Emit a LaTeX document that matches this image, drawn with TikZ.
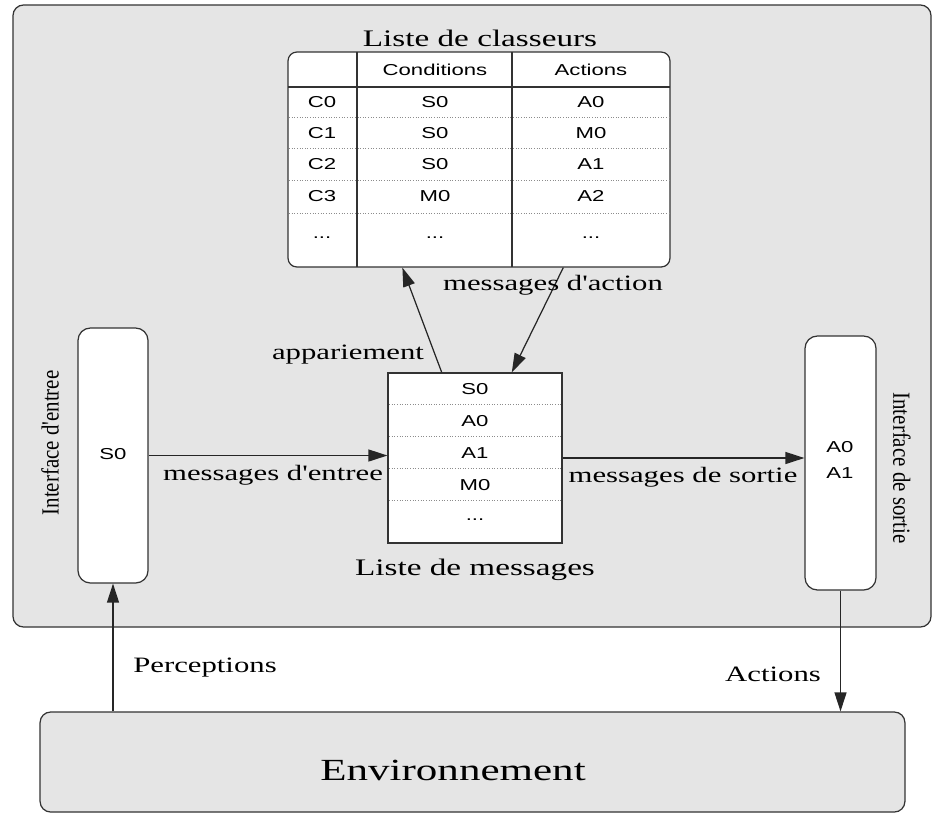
\documentclass[tikz,border=0pt]{standalone}
\usepackage{fontspec}
\setmainfont{Liberation Serif}
\newfontfamily\labfont[FakeStretch=1.4]{Liberation Serif}
\newfontfamily\cellfont[FakeStretch=1.4]{Liberation Sans}
\newfontfamily\sidefont[FakeStretch=0.85]{Liberation Serif}
\usetikzlibrary{arrows.meta,calc}

\begin{document}
\begin{tikzpicture}[x=0.02cm,y=-0.02cm,
  frame/.style={draw=black!80, line width=0.7pt},
  panel/.style={frame, fill=black!10, rounded corners=6pt},
  whitebox/.style={frame, fill=white, rounded corners=5pt, inner sep=0pt},
  listbox/.style={frame, fill=white, inner sep=0pt},
  cell/.style={font=\cellfont\fontsize{9}{10}\selectfont, inner sep=0pt},
  lbl/.style={font=\labfont\fontsize{12.5}{14}\selectfont, inner sep=0pt},
  title/.style={font=\labfont\fontsize{13.5}{15}\selectfont, inner sep=0pt},
  sidelbl/.style={font=\sidefont\fontsize{14}{16}\selectfont, inner sep=0pt},
  arr/.style={draw=black!85, line width=0.7pt, -{Triangle[length=3.8mm,width=2.4mm]}},
  sepline/.style={draw=black!45, line width=0.5pt, densely dotted},
]
\useasboundingbox (0,0) rectangle (935,822);
\fill[white] (0,0) rectangle (935,822);

% classifier system frame
\draw[panel] (13,5) rectangle (931,627);

% environment
\node[panel, minimum width=17.3cm, minimum height=2cm] (env) at (472.5,762) {};
\node[font=\labfont\fontsize{17.5}{20}\selectfont, inner sep=0pt] (envtext) at (453,770) {Environnement};

% classifier list
\node[title] (clstitle) at (480,38) {Liste de classeurs};
\node[whitebox, minimum width=7.64cm, minimum height=4.3cm] (cls) at (479,159.5) {};
\draw[frame] (357,52) -- (357,267);
\draw[frame] (512,52) -- (512,267);
\draw[frame] (288,87) -- (670,87);
\foreach \yy in {117,148,180,213}
  \draw[sepline] (289,\yy) -- (669,\yy);
\node[cell] (hcond) at (435,70) {Conditions};
\node[cell] (hact)  at (591,70) {Actions};
\node[cell] (c0) at (322,102) {C0};
\node[cell] (c1) at (322,133) {C1};
\node[cell] (c2) at (322,164) {C2};
\node[cell] (c3) at (322,196) {C3};
\node[cell] (cx) at (322,238) {...};
\node[cell] (k0) at (435,102) {S0};
\node[cell] (k1) at (435,133) {S0};
\node[cell] (k2) at (435,164) {S0};
\node[cell] (k3) at (435,196) {M0};
\node[cell] (kx) at (435,238) {...};
\node[cell] (a0) at (591,102) {A0};
\node[cell] (a1) at (591,133) {M0};
\node[cell] (a2) at (591,164) {A1};
\node[cell] (a3) at (591,196) {A2};
\node[cell] (ax) at (591,238) {...};

% message list
\node[listbox, minimum width=3.48cm, minimum height=3.4cm] (msg) at (475,458) {};
\foreach \yy in {404,436,468,500}
  \draw[sepline] (389,\yy) -- (561,\yy);
\node[cell] (m0) at (475,389) {S0};
\node[cell] (m1) at (475,421) {A0};
\node[cell] (m2) at (475,453) {A1};
\node[cell] (m3) at (475,485) {M0};
\node[cell] (mx) at (475,520) {...};
\node[title] (msgtitle) at (475,570) {Liste de messages};

% input and output interfaces
\node[whitebox, rounded corners=7pt, minimum width=1.4cm, minimum height=5.1cm] (inp) at (113,455.5) {};
\node[cell] (inp0) at (113,454) {S0};
\node[sidelbl, rotate=90] (inplbl) at (50,443) {Interface d'entree};
\node[whitebox, rounded corners=7pt, minimum width=1.42cm, minimum height=5.08cm] (out) at (840.5,463) {};
\node[cell] (out0) at (840,447) {A0};
\node[cell] (out1) at (840,473) {A1};
\node[sidelbl, rotate=-90] (outlbl) at (902,468) {Interface de sortie};

% message flows
\draw[arr] (inp.east) -- (inp.east -| msg.west);
\node[lbl] (lin) at (273,475) {messages d'entree};
\draw[arr] (msg.east) -- (msg.east -| out.west);
\node[lbl] (lout) at (683,477) {messages de sortie};
\draw[arr] ($(msg.north west)!0.31!(msg.north east)$) -- ($(cls.south west)!0.3!(cls.south east)$);
\node[lbl] (lapp) at (348,355) {appariement};
\draw[arr] ($(cls.south west)!0.72!(cls.south east)$) -- ($(msg.north west)!0.71!(msg.north east)$);
\node[lbl] (lact) at (553,285) {messages d'action};

% exchanges with the environment
\draw[arr] (inp.south |- env.north) -- (inp.south);
\node[lbl] (lperc) at (205,668) {Perceptions};
\draw[arr] (out.south) -- (out.south |- env.north);
\node[lbl] (lacts) at (773,674) {Actions};
\end{tikzpicture}
\end{document}
